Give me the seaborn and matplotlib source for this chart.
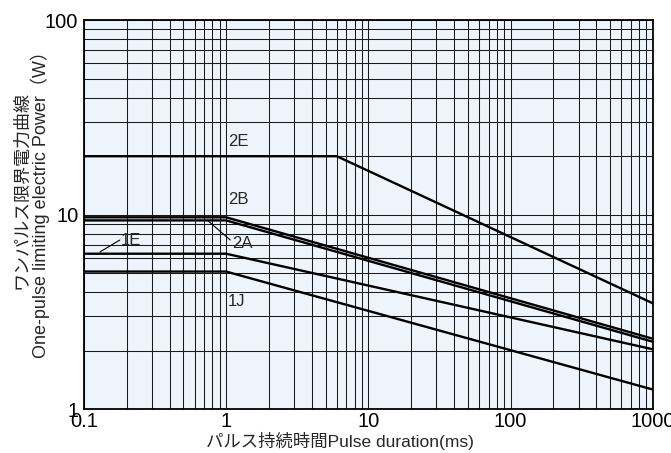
import numpy as np
import pandas as pd
import matplotlib
matplotlib.use("Agg")
import matplotlib.pyplot as plt
import seaborn as sns
from matplotlib.ticker import FixedLocator, FixedFormatter, LogLocator, NullFormatter


# values
curves = ["2E", "2B", "2A", "1E", "1J"]
pulse_ms = {
    "2E": [0.1, 6, 1000],
    "2B": [0.1, 1, 1000],
    "2A": [0.1, 1, 1000],
    "1E": [0.1, 1, 1000],
    "1J": [0.1, 1, 1000],
}
power_w = {
    "2E": [20, 20, 3.5],
    "2B": [9.7, 9.7, 2.3],
    "2A": [9.35, 9.35, 2.22],
    "1E": [6.3, 6.3, 2.03],
    "1J": [5.1, 5.1, 1.26],
}
x_ticks = [0.1, 1, 10, 100, 1000]
x_labels = ["0.1", "1", "10", "100", "1000"]
y_ticks = [1, 10, 100]
y_labels = ["1", "10", "100"]

rows = []
for c in curves:
    for t, p in zip(pulse_ms[c], power_w[c]):
        rows.append({"curve": c, "ms": t, "W": p})
df = pd.DataFrame(rows)

sns.set_style("white")
plt.rcParams["font.family"] = ["Liberation Sans", "Noto Sans CJK JP"]

W, H = 671, 453
fig = plt.figure(figsize=(W / 100, H / 100), dpi=100)
ax = fig.add_axes([0.125, 0.097, 0.848, 0.858])
ax.set_facecolor("#edf4fb")

ax.set_xscale("log")
ax.set_yscale("log")
ax.set_xlim(0.1, 1000)
ax.set_ylim(1, 100)

sns.lineplot(data=df, x="ms", y="W", units="curve", estimator=None,
             color="black", linewidth=1.7, ax=ax, zorder=3)

# grid, major + minor
ax.xaxis.set_minor_locator(LogLocator(base=10, subs=np.arange(2, 10)))
ax.yaxis.set_minor_locator(LogLocator(base=10, subs=np.arange(2, 10)))
ax.xaxis.set_minor_formatter(NullFormatter())
ax.yaxis.set_minor_formatter(NullFormatter())
ax.grid(which="both", color="#1a1a1a", linewidth=0.75)
ax.set_axisbelow(True)

ax.xaxis.set_major_locator(FixedLocator(x_ticks))
ax.xaxis.set_major_formatter(FixedFormatter(x_labels))
ax.yaxis.set_major_locator(FixedLocator(y_ticks))
ax.yaxis.set_major_formatter(FixedFormatter(y_labels))
ax.tick_params(which="both", length=0, labelsize=14.5, colors="black")
ax.tick_params(axis="x", pad=2)
ax.tick_params(axis="y", pad=4)

for s in ax.spines.values():
    s.set_color("black")
    s.set_linewidth(1.3)

ax.set_xlabel("")
ax.set_ylabel("")
# axis titles sit a little off-centre in the original
fig.text(340 / W, 1 - 441 / H, "パルス持続時間Pulse duration(ms)",
         fontsize=12.5, ha="center", va="center")
fig.text(22 / W, 1 - 190 / H, "ワンパルス限界電力曲線",
         fontsize=13, rotation=90, ha="center", va="center")
fig.text(40 / W, 1 - 200 / H, "One-pulse limiting electric Power（W）",
         fontsize=13, rotation=90, ha="center", va="center")

# curve labels
fs = 12
ax.text(1.03, 23.9, "2E", fontsize=fs, va="center")
ax.text(1.03, 12.0, "2B", fontsize=fs, va="center")
ax.text(1.03, 3.58, "1J", fontsize=fs, va="center")
ax.text(0.182, 7.39, "1E", fontsize=fs, va="center")
ax.plot([0.1296, 0.179], [6.43, 7.41], color="black", linewidth=0.8)
ax.text(1.1, 7.13, "2A", fontsize=fs, va="center")
ax.plot([0.74, 1.07], [9.35, 7.41], color="black", linewidth=0.8)

fig.savefig("out.png", dpi=100)
